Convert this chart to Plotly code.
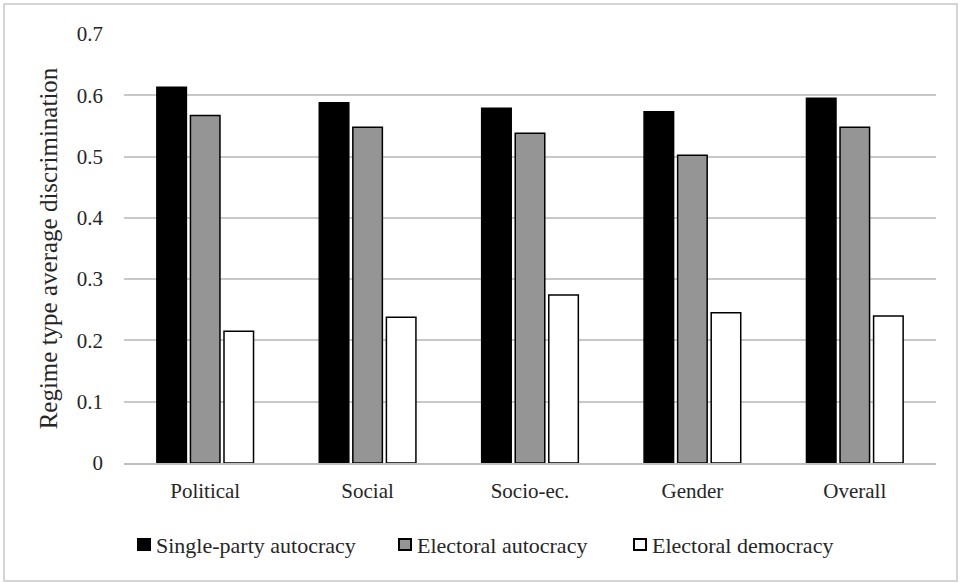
import plotly.graph_objects as go

categories = ["Political", "Social", "Socio-ec.", "Gender", "Overall"]
single_party = [0.613, 0.588, 0.579, 0.573, 0.595]
electoral_autocracy = [0.567, 0.548, 0.538, 0.502, 0.548]
electoral_democracy = [0.215, 0.238, 0.274, 0.245, 0.240]
y_ticks = [0, 0.1, 0.2, 0.3, 0.4, 0.5, 0.6, 0.7]
y_tick_labels = ["0", "0.1", "0.2", "0.3", "0.4", "0.5", "0.6", "0.7"]
series_names = ["Single-party autocracy", "Electoral autocracy", "Electoral democracy"]

FONT = "Liberation Serif"
TXT = "#262626"
colors = ["#000000", "#959595", "#ffffff"]

fig = go.Figure()
for name, vals, color in zip(series_names,
                             [single_party, electoral_autocracy, electoral_democracy],
                             colors):
    fig.add_trace(go.Bar(
        x=categories, y=vals, name=name,
        marker=dict(color=color, line=dict(color="#000000", width=1.5)),
    ))

W, H = 960, 583
L, R, T, B = 124, 24, 34, 120
pw, ph = W - L - R, H - T - B

def px_x(x):
    return (x - L) / pw

def px_y(y):
    return 1 - (y - T) / ph

shapes = [dict(type="rect", xref="paper", yref="paper",
               x0=px_x(4), x1=px_x(957), y0=px_y(581), y1=px_y(4),
               line=dict(color="#c8c8c8", width=1.5), fillcolor="rgba(0,0,0,0)")]
annotations = []
legend_sq_x = [137, 398, 633]
for sx, name, color in zip(legend_sq_x, series_names, colors):
    shapes.append(dict(type="rect", xref="paper", yref="paper",
                       x0=px_x(sx + 1), x1=px_x(sx + 13), y0=px_y(550), y1=px_y(539),
                       line=dict(color="#000000", width=2), fillcolor=color))
    annotations.append(dict(xref="paper", yref="paper", x=px_x(sx + 17), y=px_y(545),
                            xanchor="left", yanchor="middle", showarrow=False,
                            text=name, font=dict(family=FONT, size=22, color=TXT)))

fig.update_layout(
    width=W, height=H,
    margin=dict(l=L, r=R, t=T, b=B),
    paper_bgcolor="white", plot_bgcolor="white",
    barmode="group", bargap=0.38, bargroupgap=0.12,
    font=dict(family=FONT, size=21, color=TXT),
    showlegend=False,
    xaxis=dict(showgrid=False, showline=True, linecolor="#bfbfbf", linewidth=2,
               ticks="", ticklabelstandoff=8, tickfont=dict(size=21, color=TXT)),
    yaxis=dict(range=[0, 0.7], tickvals=y_ticks, ticktext=y_tick_labels,
               showgrid=True, gridcolor="#c8c8c8", gridwidth=1.5,
               zeroline=False, showline=False, ticks="", ticklen=0,
               ticklabelstandoff=20,
               tickfont=dict(size=21, color=TXT),
               title=dict(text="Regime type average discrimination",
                          font=dict(size=25, color=TXT), standoff=12)),
    shapes=shapes,
    annotations=annotations,
)

fig.write_html("out.html")
